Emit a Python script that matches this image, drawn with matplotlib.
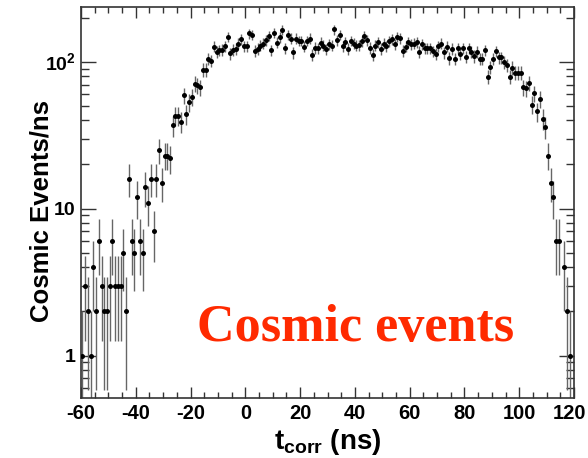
import numpy as np
import matplotlib
matplotlib.use("Agg")
import matplotlib.pyplot as plt
import matplotlib.transforms as mtransforms
from matplotlib.ticker import FixedLocator, MultipleLocator, LogLocator, NullFormatter

plt.rcParams['axes.unicode_minus'] = False
plt.rcParams['mathtext.fontset'] = 'custom'
plt.rcParams['mathtext.rm'] = 'Liberation Sans'
plt.rcParams['mathtext.bf'] = 'Liberation Sans:bold'
plt.rcParams['font.family'] = ['Liberation Sans', 'DejaVu Sans']

# 1 ns bins from -60 to 120 ns
bin_low = -60
bin_width = 1.0
counts = [
    1, 3, 2, 1, 4, 2, 6, 3, 2, 2,            # -60 .. -50
    3, 6, 3, 3, 3, 5, 2, 16, 6, 5,           # -50 .. -40
    12, 6, 5, 14, 11, 16, 7, 16, 25, 15,     # -40 .. -30
    23, 23, 22, 37, 43, 43, 39, 59, 44, 53,  # -30 .. -20
    58, 71, 69, 67, 88, 88, 105, 102, 127, 117,   # -20 .. -10
    120, 121, 128, 148, 114, 121, 123, 133, 143, 128,  # -10 .. 0
    128, 156, 153, 119, 123, 129, 133, 140, 150, 120,  # 0 .. 10
    157, 135, 147, 164, 124, 153, 144, 116, 144, 139,  # 10 .. 20
    139, 127, 139, 144, 111, 125, 124, 135, 129, 122,  # 20 .. 30
    132, 129, 166, 140, 153, 128, 136, 123, 139, 133,  # 30 .. 40
    129, 130, 138, 150, 140, 125, 111, 129, 136, 123,  # 40 .. 50
    133, 128, 138, 142, 132, 148, 145, 119, 127, 136,  # 50 .. 60
    132, 133, 136, 117, 132, 124, 124, 124, 118, 113,  # 60 .. 70
    128, 133, 116, 127, 106, 123, 105, 124, 113, 124,  # 70 .. 80
    108, 124, 117, 109, 117, 105, 105, 120, 79, 92,    # 80 .. 90
    105, 118, 107, 107, 100, 95, 79, 91, 84, 84,       # 90 .. 100
    84, 67, 66, 72, 51, 61, 46, 56, 41, 36,            # 100 .. 110
    23, 15, 12, 6, 6, 0, 4, 2, 1, 0,                   # 110 .. 120
]

x_ticks = [-60, -40, -20, 0, 20, 40, 60, 80, 100, 120]
y_ticks = [1, 10, 100]
y_ticklabels = ['1', '10', r'$\mathbf{10}^{\mathbf{2}}$']

counts = np.asarray(counts, dtype=float)
centers = bin_low + bin_width * (np.arange(len(counts)) + 0.5)
filled = counts > 0
n = counts[filled]
xc = centers[filled]
err = np.sqrt(n)
lo = np.clip(n - err, 1e-3, None)
hi = n + err

fig = plt.figure(figsize=(5.88, 4.58), dpi=100)
ax = fig.add_axes([81 / 588, 1 - 398 / 458, (574 - 81) / 588, (398 - 7) / 458])

ax.set_yscale('log')
ax.vlines(xc, lo, hi, color='#666666', lw=1.0, zorder=2)
ax.hlines(n, xc - bin_width / 2, xc + bin_width / 2, color='#444444', lw=1.0, zorder=2)
ax.plot(xc, n, 'o', color='black', ms=3.6, mec='black', mew=0, zorder=3)

ax.set_xlim(-60, 120)
ax.set_ylim(0.515, 236)

ax.xaxis.set_major_locator(FixedLocator(x_ticks))
ax.xaxis.set_minor_locator(MultipleLocator(5))
ax.set_xticklabels([str(v) for v in x_ticks])
ax.yaxis.set_major_locator(FixedLocator(y_ticks))
ax.set_yticklabels(y_ticklabels)
ax.yaxis.set_minor_locator(LogLocator(base=10, subs=np.arange(2, 10)))
ax.yaxis.set_minor_formatter(NullFormatter())

ax.tick_params(axis='both', which='both', direction='in', top=True, right=True,
               color='#333333', width=1.0)
ax.tick_params(axis='x', which='major', length=8, pad=4)
ax.tick_params(axis='x', which='minor', length=4)
ax.tick_params(axis='y', which='major', length=11, pad=4)
ax.tick_params(axis='y', which='minor', length=5.5)

for lab in ax.get_xticklabels():
    lab.set_fontweight('bold')
    lab.set_fontsize(14.5)
for lab in ax.get_yticklabels():
    lab.set_fontweight('bold')
    lab.set_fontsize(14)

# keep the last x label inside the canvas
last = ax.xaxis.get_major_ticks()[-1].label1
last.set_transform(last.get_transform() +
                   mtransforms.ScaledTranslation(-3.5 / 72, 0, fig.dpi_scale_trans))

for sp in ax.spines.values():
    sp.set_color('#333333')
    sp.set_linewidth(1.2)

ax.set_ylabel('Cosmic Events/ns', fontsize=18.5, fontweight='bold')
ax.yaxis.set_label_coords(-27 / 493, (398 - 211) / 391)
ax.set_xlabel(r'$\mathbf{t}_{\mathbf{corr}}$ (ns)', fontsize=20, fontweight='bold', labelpad=3)

fig.text(356 / 588, 1 - 328 / 458, 'Cosmic events', color='#ff2a00',
         family='Liberation Serif', fontweight='bold', fontsize=37.5,
         ha='center', va='center')

fig.savefig('out.png', dpi=100, facecolor='white')
